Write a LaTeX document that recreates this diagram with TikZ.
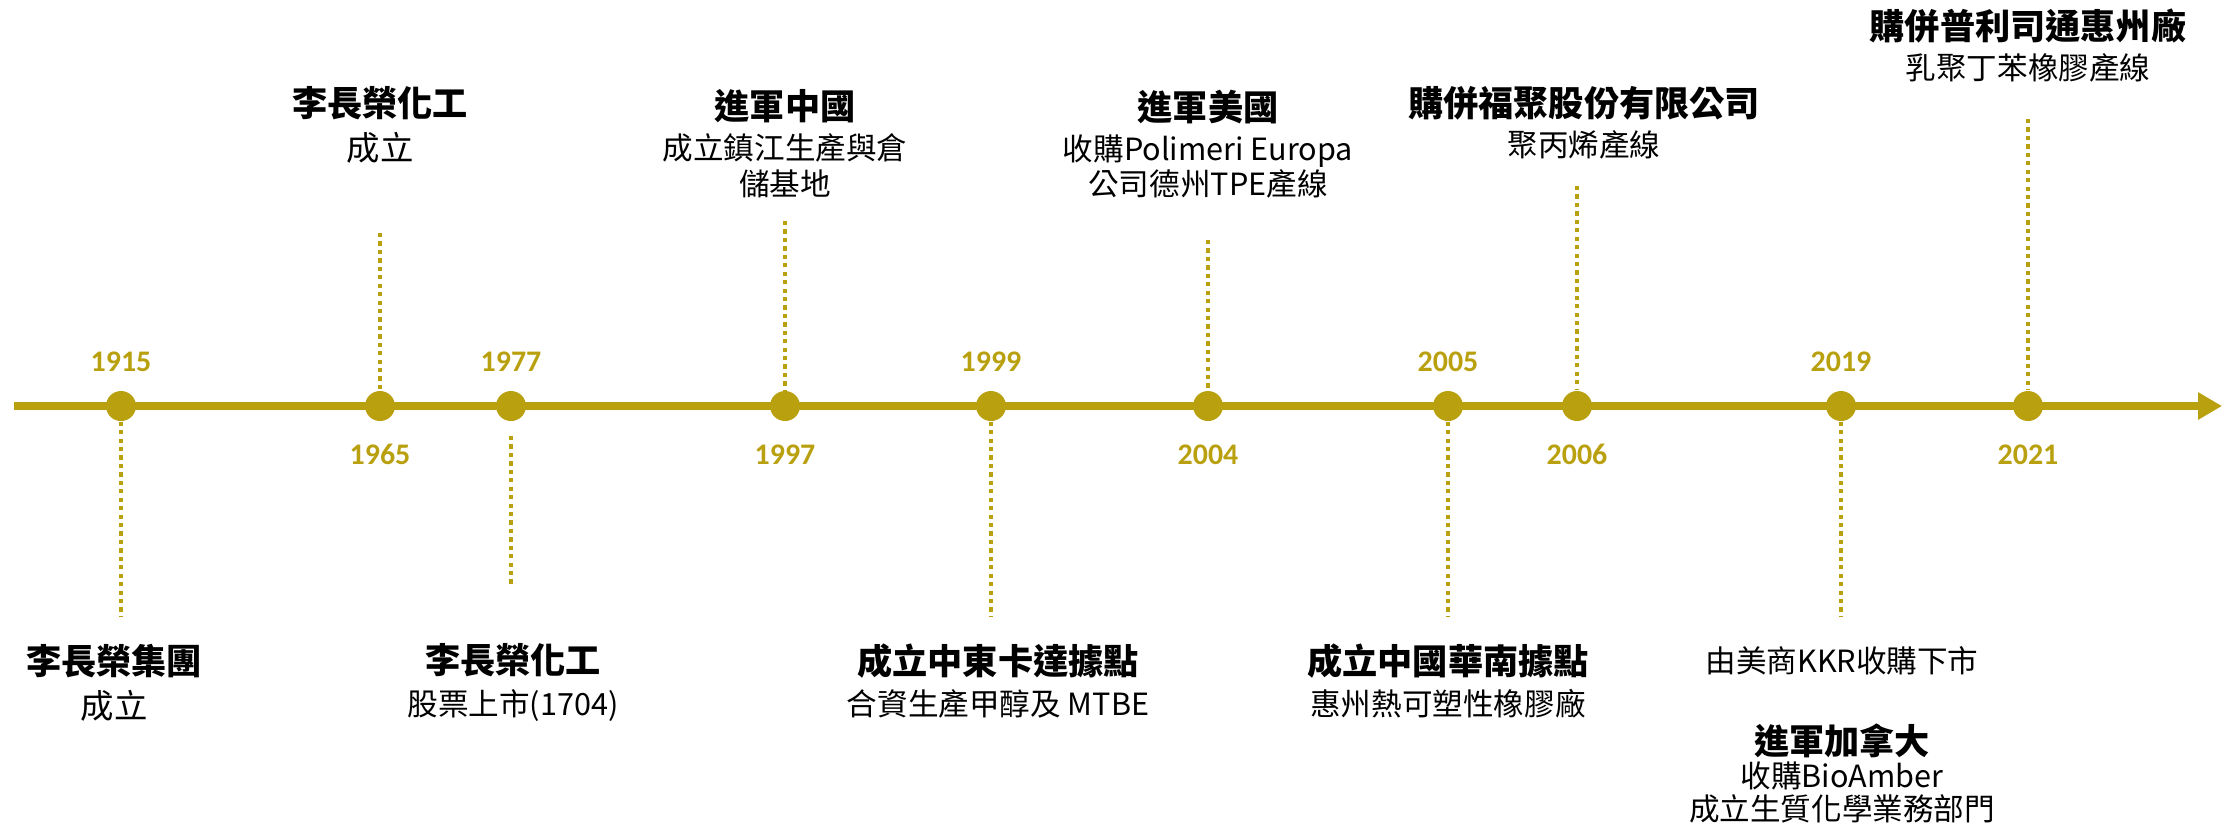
\documentclass[tikz,border=0pt]{standalone}
\usepackage{fontspec}
\setmainfont{Noto Sans CJK TC}
\newfontfamily\yearfont{Carlito}
\usetikzlibrary{arrows.meta,positioning}
\definecolor{gold}{HTML}{B9A00F}
\newcommand{\hd}[1]{{\fontsize{10}{12}\selectfont\bfseries #1}}

\begin{document}
\begin{tikzpicture}[x=0.01cm,y=-0.01cm]
    % `milestone' is the dot on the time axis.
    % `year' is the gold year next to a dot.
    % `leader' is the dotted line from a dot to its text.
    % `event' is the black text of a milestone.
    \tikzstyle{milestone} = [fill=gold,shape=circle,minimum size=0.3cm,inner sep=0pt]
    \tikzstyle{year} = [text=gold,font=\yearfont\bfseries\fontsize{8.5}{10}\selectfont,inner sep=0pt]
    \tikzstyle{leader} = [draw=gold,line width=1.1pt,dash pattern=on 1.2pt off 1.2pt]
    \tikzstyle{event} = [align=center,anchor=north,inner sep=0pt,font=\fontsize{8.7}{10}\selectfont]
    \tikzstyle{axis} = [draw=gold,line width=2.2pt,-{Triangle[length=0.24cm,width=0.26cm]}]
    %
    \useasboundingbox (0,0) rectangle (2239,829);
    % Draw the time axis.
    \coordinate (start) at (14,406);
    \coordinate (tip) at (2222,406);
    \draw[axis] (start) -- (tip);
    % Dots and years.
    \foreach \yr/\xx in {1915/121,1965/380,1977/511,1997/785,1999/991,
                         2004/1208,2005/1448,2006/1577,2019/1841,2021/2028}
      \node[milestone] (d\yr) at (\xx,406) {};
    \foreach \yr in {1915,1977,1999,2005,2019}
      \node[year,above=0.18cm of d\yr] (y\yr) {\yr};
    \foreach \yr in {1965,1997,2004,2006,2021}
      \node[year,below=0.22cm of d\yr] (y\yr) {\yr};
    % Dotted lines.
    \foreach \yr/\xx/\yy in {1965/380/233,1997/785/221,2004/1208/240,2006/1577/186,2021/2028/119} {
      \coordinate (l\yr) at (\xx,\yy);
      \draw[leader] (l\yr) -- (d\yr);
    }
    \foreach \yr/\xx in {1915/121,1999/991,2005/1448,2019/1841} {
      \coordinate (l\yr) at (\xx,617);
      \draw[leader] (d\yr) -- (l\yr);
    }
    \coordinate (s1977) at (511,436);
    \coordinate (l1977) at (511,585);
    \draw[leader] (s1977) -- (l1977);
    % Texts above the axis.
    \node[event] (e1965) at (380,86) {\hd{李長榮化工}\\[2.3pt]{\fontsize{9.5}{10}\selectfont 成立}};
    \node[event] (e1997) at (785,89) {\hd{進軍中國}\\[1.4pt]成立鎮江生產與倉\\儲基地};
    \node[event] (e2004) at (1208,89) {\hd{進軍美國}\\[1.4pt]收購Polimeri Europa\\公司德州TPE產線};
    \node[event] (e2006) at (1584,86) {\hd{購併福聚股份有限公司}\\[1.4pt]聚丙烯產線};
    \node[event] (e2021) at (2028,8) {\hd{購併普利司通惠州廠}\\[1.4pt]乳聚丁苯橡膠產線};
    % Texts below the axis.
    \node[event] (e1915) at (114,643) {\hd{李長榮集團}\\[2.5pt]{\fontsize{9.5}{10}\selectfont 成立}};
    \node[event] (e1977) at (513,643) {\hd{李長榮化工}\\[1.8pt]股票上市(1704)};
    \node[event] (e1999) at (998,643) {\hd{成立中東卡達據點}\\[1.8pt]合資生產甲醇及 MTBE};
    \node[event] (e2005) at (1448,643) {\hd{成立中國華南據點}\\[1.8pt]惠州熱可塑性橡膠廠};
    \node[event] (k2019) at (1842,646) {由美商KKR收購下市};
    \node[event,font=\fontsize{8.7}{9.2}\selectfont] (e2019) at (1842,723)
      {\hd{進軍加拿大}\\[0.3pt]收購BioAmber\\成立生質化學業務部門};
\end{tikzpicture}
\end{document}
